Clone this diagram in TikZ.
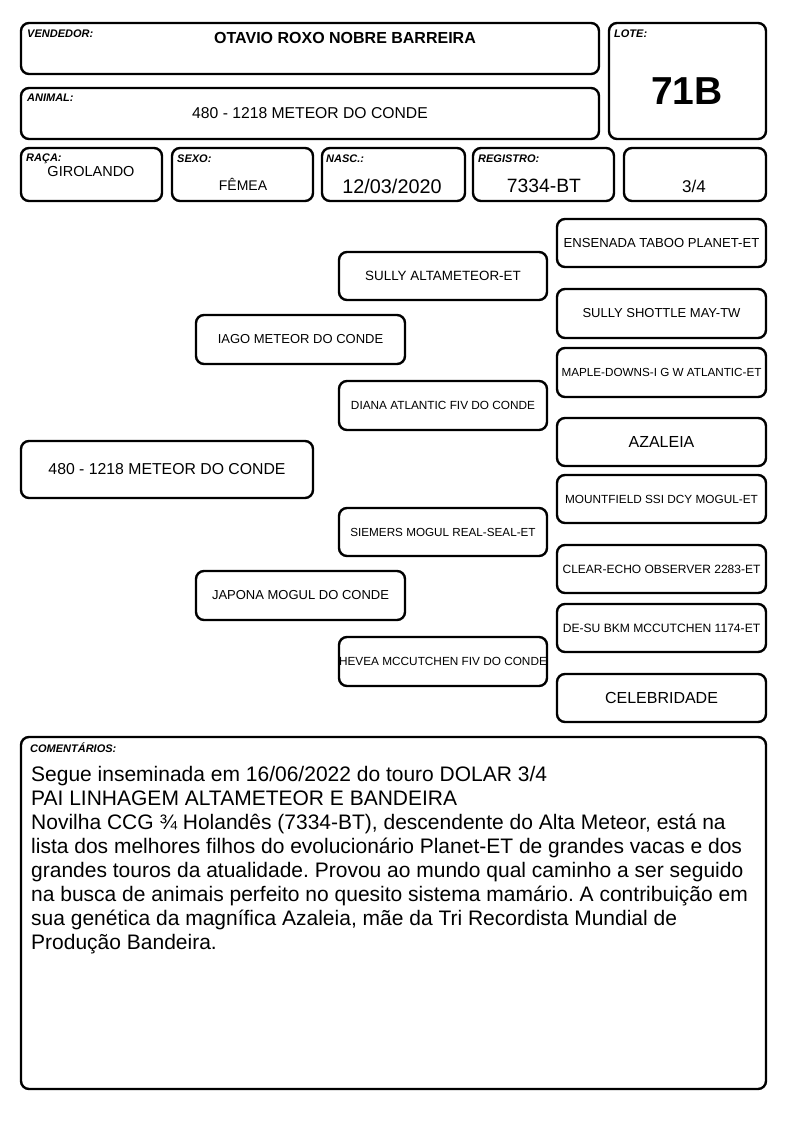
\documentclass[tikz,border=0pt]{standalone}
\usepackage{fontspec}
\setmainfont{Liberation Sans}
\newcommand{\fs}[1]{\fontsize{#1}{#1}\selectfont}
\tikzset{
  box/.style={draw, line width=2.4pt, rounded corners=8pt, inner sep=0pt, align=center},
  lbl/.style={anchor=north west, inner sep=0pt, font=\fs{11}\bfseries\itshape},
  val/.style={inner sep=0pt},
}
\begin{document}
\begin{tikzpicture}[x=1pt,y=-1pt]
\useasboundingbox (0,0) rectangle (794,1123);
% header
\node[box, minimum width=578pt, minimum height=51pt] (vend) at (310,48.5) {};
\node[box, minimum width=157pt, minimum height=116pt] (lote) at (687.5,81) {};
\node[box, minimum width=578pt, minimum height=51pt] (anim) at (310,113.5) {};
\node[box, minimum width=141pt, minimum height=53pt] (raca) at (91.5,174.5) {};
\node[box, minimum width=141pt, minimum height=53pt] (sexo) at (242.5,174.5) {};
\node[box, minimum width=143pt, minimum height=53pt] (nasc) at (393.5,174.5) {};
\node[box, minimum width=141pt, minimum height=53pt] (reg) at (543.5,174.5) {};
\node[box, minimum width=142pt, minimum height=53pt] (grau) at (695,174.5) {};

\node[lbl] (lvend) at (27,30) {VENDEDOR:};
\node[lbl] (llote) at (614,30) {LOTE:};
\node[lbl] (lanim) at (27,94) {ANIMAL:};
\node[lbl] (lraca) at (26,154) {RAÇA:};
\node[lbl] (lsexo) at (177,155) {SEXO:};
\node[lbl] (lnasc) at (326,155) {NASC.:};
\node[lbl] (lreg) at (478,155) {REGISTRO:};

\node[val, font=\fs{16}\bfseries] (tvend) at (345,38) {OTAVIO ROXO NOBRE BARREIRA};
\node[val, font=\fs{39}\bfseries] (tlote) at (687,91) {71B};
\node[val, font=\fs{15.7}] (tanim) at (310,113) {480 - 1218 METEOR DO CONDE};
\node[val, font=\fs{14.5}] (traca) at (91,172) {GIROLANDO};
\node[val, font=\fs{14}] (tsexo) at (243,184) {FÊMEA};
\node[val, font=\fs{19.8}] (tnasc) at (392,186) {12/03/2020};
\node[val, font=\fs{19.3}] (treg) at (544,186) {7334-BT};
\node[val, font=\fs{17}] (tgrau) at (694,186) {3/4};

% pedigree
\node[box, minimum width=292pt, minimum height=57pt, font=\fs{15.8}] (p0) at (167,469.5) {480 - 1218 METEOR DO CONDE};
\node[box, minimum width=209pt, minimum height=49pt, font=\fs{13}] (p1) at (300.5,339.5) {IAGO METEOR DO CONDE};
\node[box, minimum width=209pt, minimum height=49pt, font=\fs{13}] (p2) at (300.5,595.5) {JAPONA MOGUL DO CONDE};
\node[box, minimum width=208pt, minimum height=48pt, font=\fs{13.4}] (p11) at (443,276) {SULLY ALTAMETEOR-ET};
\node[box, minimum width=208pt, minimum height=49pt, font=\fs{11.8}] (p12) at (443,405.5) {DIANA ATLANTIC FIV DO CONDE};
\node[box, minimum width=208pt, minimum height=48pt, font=\fs{11.7}] (p21) at (443,532) {SIEMERS MOGUL REAL-SEAL-ET};
\node[box, minimum width=208pt, minimum height=49pt, font=\fs{11.8}] (p22) at (443,661.5) {HEVEA MCCUTCHEN FIV DO CONDE};
\node[box, minimum width=209pt, minimum height=48pt, font=\fs{13.1}] (p111) at (661.5,243) {ENSENADA TABOO PLANET-ET};
\node[box, minimum width=209pt, minimum height=49pt, font=\fs{13}] (p112) at (661.5,313.5) {SULLY SHOTTLE MAY-TW};
\node[box, minimum width=209pt, minimum height=49pt, font=\fs{11.7}] (p121) at (661.5,372.5) {MAPLE-DOWNS-I G W ATLANTIC-ET};
\node[box, minimum width=209pt, minimum height=48pt, font=\fs{16}] (p122) at (661.5,442) {AZALEIA};
\node[box, minimum width=209pt, minimum height=48pt, font=\fs{11.8}] (p211) at (661.5,499) {MOUNTFIELD SSI DCY MOGUL-ET};
\node[box, minimum width=209pt, minimum height=48pt, font=\fs{12}] (p212) at (661.5,569) {CLEAR-ECHO OBSERVER 2283-ET};
\node[box, minimum width=209pt, minimum height=48pt, font=\fs{12.1}] (p221) at (661.5,628) {DE-SU BKM MCCUTCHEN 1174-ET};
\node[box, minimum width=209pt, minimum height=48pt, font=\fs{16}] (p222) at (661.5,698) {CELEBRIDADE};

% comments
\node[box, minimum width=745pt, minimum height=352pt] (com) at (393.5,913) {};
\node[lbl] (lcom) at (30,743) {COMENTÁRIOS:};
\node[anchor=north west, inner sep=0pt, align=left, font=\fontsize{21}{24}\selectfont\frenchspacing] (tcom) at (31,766) {Segue inseminada em 16/06/2022 do touro DOLAR 3/4\\
PAI LINHAGEM ALTAMETEOR E BANDEIRA\\
Novilha CCG ¾ Holandês (7334-BT), descendente do Alta Meteor, está na\\
lista dos melhores filhos do evolucionário Planet-ET de grandes vacas e dos\\
grandes touros da atualidade. Provou ao mundo qual caminho a ser seguido\\
na busca de animais perfeito no quesito sistema mamário. A contribuição em\\
sua genética da magnífica Azaleia, mãe da Tri Recordista Mundial de\\
Produção Bandeira.};
\end{tikzpicture}
\end{document}
